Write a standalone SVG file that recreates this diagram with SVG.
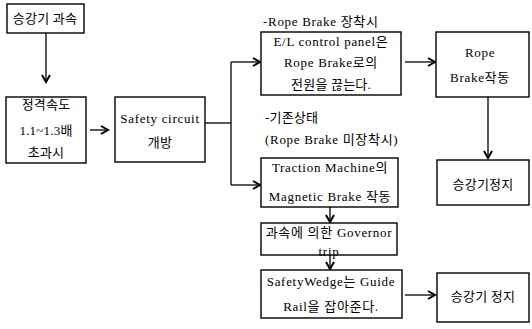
<svg xmlns="http://www.w3.org/2000/svg" width="532" height="329" viewBox="0 0 532 329">
<defs>
<style>
.box{fill:#fff;stroke:#000;stroke-width:1.4}
.t{font-family:"Liberation Serif","Noto Sans CJK KR",serif;font-size:13px;fill:#000;text-anchor:middle;letter-spacing:0.7px}
.k{letter-spacing:0.2px}
.l{text-anchor:start}
.c{fill:none;stroke:#000;stroke-width:1.3}
</style>
<marker id="ah" markerWidth="10" markerHeight="10" refX="8" refY="5" orient="auto" markerUnits="userSpaceOnUse">
<path d="M1,1 L8,5 L1,9" fill="none" stroke="#000" stroke-width="2"/>
</marker>
</defs>
<rect width="532" height="329" fill="#fff"/>
<g id="connectors">
<line class="c" x1="46" y1="33" x2="46" y2="82" marker-end="url(#ah)"/>
<line class="c" x1="90" y1="130" x2="108" y2="130" marker-end="url(#ah)"/>
<polyline class="c" points="205,123 231,123"/>
<line class="c" x1="231" y1="62" x2="231" y2="185"/>
<line class="c" x1="231" y1="62" x2="260" y2="62" marker-end="url(#ah)"/>
<line class="c" x1="231" y1="185" x2="260" y2="185" marker-end="url(#ah)"/>
<line class="c" x1="405" y1="62" x2="435" y2="62" marker-end="url(#ah)"/>
<line class="c" x1="488" y1="97" x2="488" y2="158" marker-end="url(#ah)"/>
<line class="c" x1="330" y1="207" x2="330" y2="222" marker-end="url(#ah)"/>
<line class="c" x1="330" y1="255" x2="330" y2="269" marker-end="url(#ah)"/>
<line class="c" x1="405" y1="295" x2="435" y2="295" marker-end="url(#ah)"/>
</g>
<g id="n1"><rect class="box" x="7" y="4" width="77" height="29"/><text class="t k" x="45" y="23">승강기 과속</text></g>
<g id="n2"><rect class="box" x="6" y="97" width="80" height="66"/>
<text class="t k" x="46" y="109">정격속도</text><text class="t k" x="46" y="135">1.1~1.3배</text><text class="t k" x="46" y="157">초과시</text></g>
<g id="n3"><rect class="box" x="115" y="97" width="90" height="65"/>
<text class="t" x="160" y="123">Safety circuit</text><text class="t k" x="160" y="147">개방</text></g>
<g id="lab1"><text class="t l" x="263" y="26">-Rope Brake 장착시</text></g>
<g id="n4"><rect class="box" x="261" y="32" width="140" height="63"/>
<text class="t" x="331" y="46">E/L control panel은</text><text class="t" x="331" y="67">Rope Brake로의</text><text class="t k" x="331" y="89">전원을 끊는다.</text></g>
<g id="n5"><rect class="box" x="436" y="32" width="93" height="65"/>
<text class="t" x="480" y="57">Rope</text><text class="t" x="480" y="82">Brake작동</text></g>
<g id="lab2"><text class="t k l" x="265" y="122">-기존상태</text><text class="t l" x="265" y="144">(Rope Brake 미장착시)</text></g>
<g id="n6"><rect class="box" x="261" y="158" width="137" height="49"/>
<text class="t" x="330" y="172">Traction Machine의</text><text class="t" x="330" y="201">Magnetic Brake 작동</text></g>
<g id="n7"><rect class="box" x="437" y="160" width="92" height="45"/><text class="t k" x="483" y="189">승강기정지</text></g>
<g id="n8"><rect class="box" x="261" y="223" width="136" height="32"/>
<text class="t" x="329" y="237">과속에 의한 Governor</text><text class="t" x="329" y="256">trip</text></g>
<g id="n9"><rect class="box" x="261" y="270" width="141" height="48"/>
<text class="t" x="331" y="286">SafetyWedge는 Guide</text><text class="t" x="331" y="311">Rail을 잡아준다.</text></g>
<g id="n10"><rect class="box" x="437" y="273" width="92" height="49"/><text class="t k" x="483" y="301">승강기 정지</text></g>
</svg>
